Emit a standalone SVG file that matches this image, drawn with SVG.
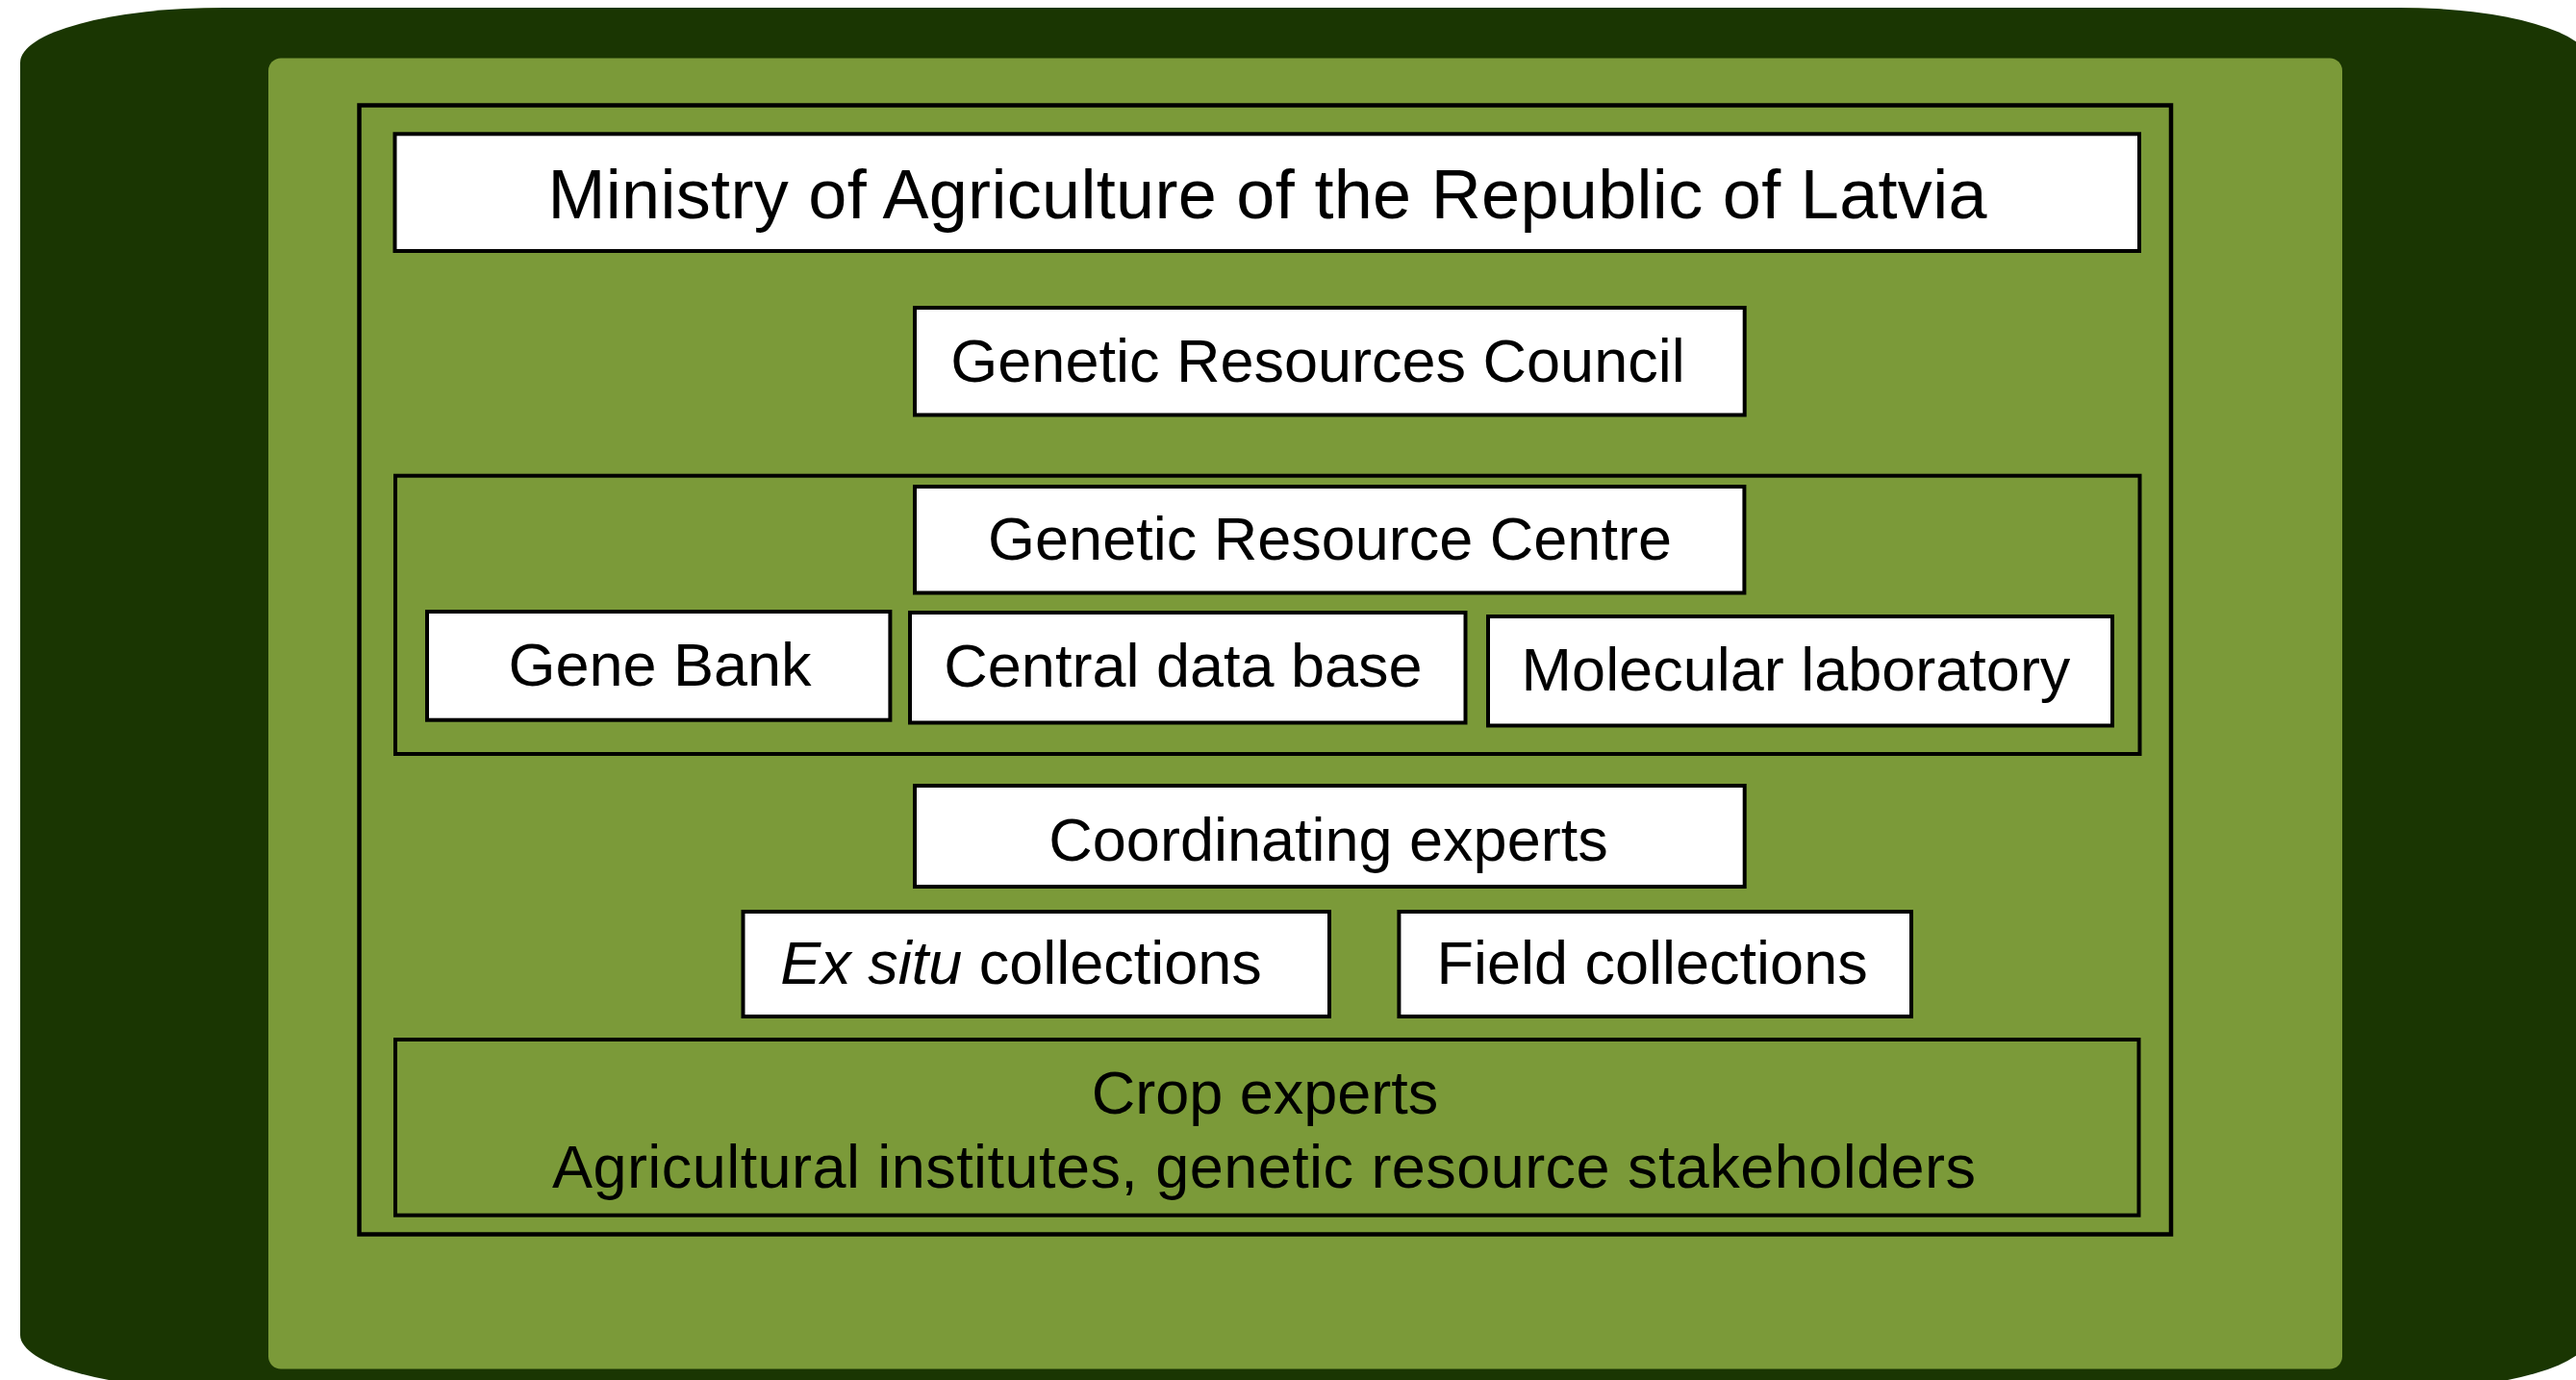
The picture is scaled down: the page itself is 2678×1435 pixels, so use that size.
<svg xmlns="http://www.w3.org/2000/svg" width="2678" height="1435" viewBox="0 0 2678 1435">
<style>
.box{fill:#ffffff;stroke:#000000;stroke-width:4}
.frame{fill:none;stroke:#000000;stroke-width:4.5}
.grp{fill:none;stroke:#000000;stroke-width:4}
text{font-family:"Liberation Sans",Arial,sans-serif;fill:#000000;text-anchor:middle}
.t{font-size:63px}
.big{font-size:72px}
</style>
<rect x="0" y="0" width="2678" height="1435" fill="#ffffff"/>
<g id="background">
<path d="M 233 8 H 2495 A 198 57 0 0 1 2693 65 V 1388 A 198 57 0 0 1 2495 1445 H 233 A 212 57 0 0 1 21 1388 V 65 A 212 57 0 0 1 233 8 Z" fill="#1a3602"/>
<rect x="279" y="60.5" width="2156" height="1363" rx="13" ry="13" fill="#7b9a39"/>
<rect class="frame" x="373.5" y="109.5" width="1883.5" height="1174"/>
</g>
<g id="connectors"></g>
<g id="ministry">
<rect class="box" x="410.5" y="139.3" width="1813.5" height="121.7"/>
<text class="big" x="1317.5" y="226.7" textLength="1496" lengthAdjust="spacing">Ministry of Agriculture of the Republic of Latvia</text>
</g>
<g id="council">
<rect class="box" x="951" y="320" width="862.7" height="111.5"/>
<text class="t" x="1370" y="397">Genetic Resources Council</text>
</g>
<g id="centre-group">
<rect class="grp" x="411" y="494.7" width="1813.5" height="289.3"/>
</g>
<g id="centre">
<rect class="box" x="951" y="506" width="862.4" height="110.5"/>
<text class="t" x="1382.5" y="582">Genetic Resource Centre</text>
</g>
<g id="gene-bank">
<rect class="box" x="444" y="636" width="481.4" height="112.7"/>
<text class="t" x="686" y="713">Gene Bank</text>
</g>
<g id="central-database">
<rect class="box" x="946" y="637" width="577.5" height="114.5"/>
<text class="t" x="1230" y="714">Central data base</text>
</g>
<g id="molecular-lab">
<rect class="box" x="1547" y="641" width="649" height="113.5"/>
<text class="t" x="1867" y="718">Molecular laboratory</text>
</g>
<g id="coordinating">
<rect class="box" x="951" y="817" width="862.7" height="105"/>
<text class="t" x="1381" y="895">Coordinating experts</text>
</g>
<g id="ex-situ">
<rect class="box" x="772.5" y="948" width="609.5" height="109"/>
<text class="t" x="1061.5" y="1022.7"><tspan font-style="italic">Ex situ</tspan> collections</text>
</g>
<g id="field">
<rect class="box" x="1454.4" y="948" width="532.6" height="109"/>
<text class="t" x="1717.6" y="1022.7">Field collections</text>
</g>
<g id="crop-experts">
<rect class="grp" x="411" y="1081" width="1812.5" height="182.7"/>
<text class="t" x="1315" y="1158">Crop experts</text>
<text class="t" x="1314" y="1235" textLength="1480" lengthAdjust="spacing">Agricultural institutes, genetic resource stakeholders</text>
</g>
</svg>
